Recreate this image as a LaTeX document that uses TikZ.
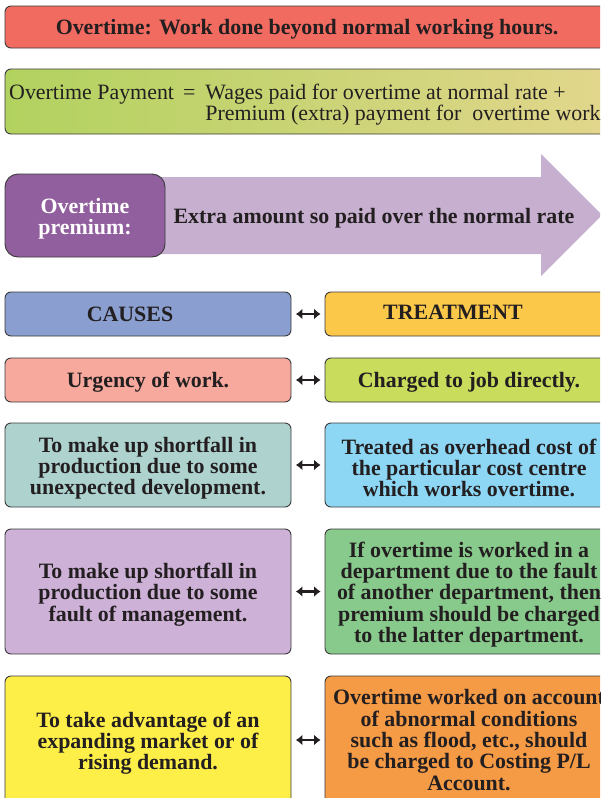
\documentclass[tikz,border=0pt]{standalone}
\usepackage{fontspec}
\setmainfont{Liberation Serif}
\usetikzlibrary{arrows.meta}
\definecolor{ink}{HTML}{231F20}
\definecolor{edge}{HTML}{3A3A3A}
\definecolor{cRed}{HTML}{F26B61}
\definecolor{cGreenL}{HTML}{B2D25F}
\definecolor{cGreenR}{HTML}{E2D68C}
\definecolor{cPurple}{HTML}{925F9E}
\definecolor{cArrow}{HTML}{C7AFD0}
\definecolor{cCauses}{HTML}{8A9FD0}
\definecolor{cTreat}{HTML}{FCC84A}
\definecolor{cUrg}{HTML}{F7A99D}
\definecolor{cJob}{HTML}{C9DC5B}
\definecolor{cTeal}{HTML}{AED3CF}
\definecolor{cSky}{HTML}{8DD7F5}
\definecolor{cLilac}{HTML}{CDB1D7}
\definecolor{cMint}{HTML}{88C98C}
\definecolor{cYellow}{HTML}{FDEE48}
\definecolor{cOrange}{HTML}{F59A45}
\newcommand\fsz{\fontsize{21.9}{21.3}\selectfont}
\begin{document}
\begin{tikzpicture}[x=1pt,y=-1pt,
  box/.style={draw=edge, line width=0.9pt, rounded corners=6pt, inner sep=0pt},
  lbox/.style={box, minimum width=286pt},
  rbox/.style={box, minimum width=288pt},
  label/.style={font=\bfseries\fsz, text=ink, inner sep=0pt, align=center},
  dbl/.style={{Latex[length=6.5pt,width=11pt]}-{Latex[length=6.5pt,width=11pt]}, line width=2.2pt, draw=ink, shorten <=4.5pt, shorten >=4pt}
]
\useasboundingbox (0,0) rectangle (600,798);
\clip (0,0) rectangle (600,798);

% header
\node[box, fill=cRed, minimum width=604pt, minimum height=42pt] (hdr) at (307,27) {};
\node[label] (hdrt) at ([yshift=-2pt]hdr.center) {Overtime: Work done beyond normal working hours.};

% payment box
\node[box, left color=cGreenL, right color=cGreenR, minimum width=604pt, minimum height=65pt] (pay) at (307,101.5) {};
\node[anchor=west, inner sep=0pt, text=ink, font=\fsz] (paytxt) at (9,105.5)
  {\begin{tabular}{@{}l@{\kern10pt}l@{}}Overtime Payment\kern9pt= & Wages paid for overtime at normal rate +\\[-1.5pt]
   & Premium (extra) payment for\ \ overtime work\end{tabular}};

% premium arrow
\fill[cArrow] (150,177) -- (541,177) -- (541,154) -- (602,215) -- (541,276) -- (541,254) -- (150,254) -- cycle;
\node[label] (extra) at (374,218) {Extra amount so paid over the normal rate};
\node[box, rounded corners=13pt, fill=cPurple, minimum width=160pt, minimum height=83pt] (prem) at (85,215.5) {};
\node[label, text=white] (premt) at ([yshift=-3pt]prem.center) {Overtime\\premium:};

% row 1
\node[lbox, fill=cCauses, minimum height=44pt] (c1) at (148,314) {};
\node[label] (c1t) at (130,314) {CAUSES};
\node[rbox, fill=cTreat, minimum height=44pt] (t1) at (469,314) {};
\node[label] (t1t) at (453,312) {TREATMENT};
\draw[dbl] (c1.east) -- (t1.west);

% row 2
\node[lbox, fill=cUrg, minimum height=44pt] (c2) at (148,380) {};
\node[label] (c2t) at ([yshift=-2pt]c2.center) {Urgency of work.};
\node[rbox, fill=cJob, minimum height=44pt] (t2) at (469,380) {};
\node[label] (t2t) at ([yshift=-2pt]t2.center) {Charged to job directly.};
\draw[dbl] (c2.east) -- (t2.west);

% row 3
\node[lbox, fill=cTeal, minimum height=84pt] (c3) at (148,465) {};
\node[label] (c3t) at ([yshift=-3pt]c3.center)
  {To make up shortfall in\\production due to some\\unexpected development.};
\node[rbox, fill=cSky, minimum height=84pt] (t3) at (469,465) {};
\node[label] (t3t) at ([yshift=-3pt]t3.center)
  {Treated as overhead cost of\\the particular cost centre\\which works overtime.};
\draw[dbl] (c3.east) -- (t3.west);

% row 4
\node[lbox, fill=cLilac, minimum height=125pt] (c4) at (148,591.5) {};
\node[label] (c4t) at ([yshift=-3pt]c4.center)
  {To make up shortfall in\\production due to some\\fault of management.};
\node[rbox, fill=cMint, minimum height=125pt] (t4) at (469,591.5) {};
\node[label] (t4t) at ([yshift=-3pt]t4.center)
  {If overtime is worked in a\\department due to the fault\\of another department, then\\premium should be charged\\to the latter department.};
\draw[dbl] (c4.east) -- (t4.west);

% row 5
\node[lbox, fill=cYellow, minimum height=128pt] (c5) at (148,740) {};
\node[label] (c5t) at ([yshift=-3pt]c5.center)
  {To take advantage of an\\expanding market or of\\rising demand.};
\node[rbox, fill=cOrange, minimum height=128pt] (t5) at (469,740) {};
\node[label] (t5t) at (t5.center)
  {Overtime worked on account\\of abnormal conditions\\such as flood, etc., should\\be charged to Costing P/L\\Account.};
\draw[dbl] (c5.east) -- (t5.west);
\end{tikzpicture}
\end{document}
